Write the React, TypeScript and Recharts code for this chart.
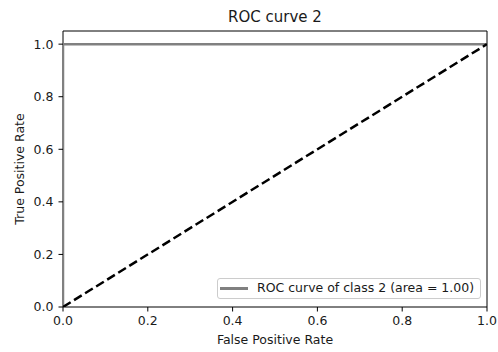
import {
  Line,
  LineChart,
  ReferenceArea,
  XAxis,
  YAxis,
} from "recharts";

// ROC curve points (false positive rate, true positive rate)
const rocCurve = [
  { x: 0, y: 0 },
  { x: 0, y: 1 },
  { x: 1, y: 1 },
];

// chance diagonal
const chanceLine = [
  { x: 0, y: 0 },
  { x: 1, y: 1 },
];

const xTicks = [0, 0.2, 0.4, 0.6, 0.8, 1.0];
const yTicks = [0, 0.2, 0.4, 0.6, 0.8, 1.0];

const title = "ROC curve 2";
const xLabel = "False Positive Rate";
const yLabel = "True Positive Rate";
const legendLabel = "ROC curve of class 2 (area = 1.00)";

const FONT = "'DejaVu Sans', sans-serif";
const TEXT = "#1a1a1a";

const tickStyle = { fontSize: 12.5, fill: TEXT, fontFamily: FONT };

export default function App() {
  return (
    <div
      style={{
        position: "absolute",
        left: 0,
        top: 0,
        width: 498,
        height: 352,
        background: "#fff",
        fontFamily: FONT,
        color: TEXT,
      }}
    >
      <LineChart
        width={498}
        height={352}
        margin={{ top: 31, right: 11, bottom: 15, left: 13 }}
      >
        <XAxis
          type="number"
          dataKey="x"
          domain={[0, 1]}
          ticks={xTicks}
          tickFormatter={(v: number) => v.toFixed(1)}
          tick={tickStyle}
          tickSize={4.5}
          tickMargin={4.5}
          tickLine={{ stroke: "#000" }}
          axisLine={false}
          height={30}
          allowDataOverflow
        />
        <YAxis
          type="number"
          domain={[0, 1.05]}
          ticks={yTicks}
          tickFormatter={(v: number) => v.toFixed(1)}
          tick={tickStyle}
          tickSize={4.5}
          tickMargin={5}
          tickLine={{ stroke: "#000" }}
          axisLine={false}
          width={50}
          allowDataOverflow
        />
        <Line
          data={rocCurve}
          dataKey="y"
          type="linear"
          stroke="#808080"
          strokeWidth={2.5}
          dot={false}
          isAnimationActive={false}
        />
        <Line
          data={chanceLine}
          dataKey="y"
          type="linear"
          stroke="#000"
          strokeWidth={2.5}
          strokeDasharray="9 4"
          dot={false}
          isAnimationActive={false}
        />
        <ReferenceArea
          x1={0}
          x2={1}
          y1={0}
          y2={1.05}
          fill="none"
          fillOpacity={0}
          stroke="#000"
          strokeWidth={1}
        />
      </LineChart>

      <div
        style={{
          position: "absolute",
          left: 63,
          width: 424,
          top: 7,
          textAlign: "center",
          fontSize: 15,
          lineHeight: "20px",
        }}
      >
        {title}
      </div>

      <div
        style={{
          position: "absolute",
          left: 63,
          width: 424,
          top: 332,
          textAlign: "center",
          fontSize: 12.5,
          lineHeight: "16px",
        }}
      >
        {xLabel}
      </div>

      <div
        style={{
          position: "absolute",
          left: 20,
          top: 169,
          width: 200,
          marginLeft: -100,
          marginTop: -8,
          textAlign: "center",
          fontSize: 12.5,
          lineHeight: "16px",
          transform: "rotate(-90deg)",
        }}
      >
        {yLabel}
      </div>

      <div
        style={{
          position: "absolute",
          left: 217,
          top: 278,
          width: 262,
          height: 19,
          border: "1px solid #cccccc",
          borderRadius: 3,
          background: "rgba(255,255,255,0.8)",
        }}
      >
        <div
          style={{
            position: "absolute",
            left: 2,
            top: 8,
            width: 28,
            height: 2.5,
            background: "#808080",
          }}
        />
        <div
          style={{
            position: "absolute",
            left: 39,
            top: 1,
            fontSize: 12.5,
            lineHeight: "16px",
            whiteSpace: "nowrap",
          }}
        >
          {legendLabel}
        </div>
      </div>
    </div>
  );
}
